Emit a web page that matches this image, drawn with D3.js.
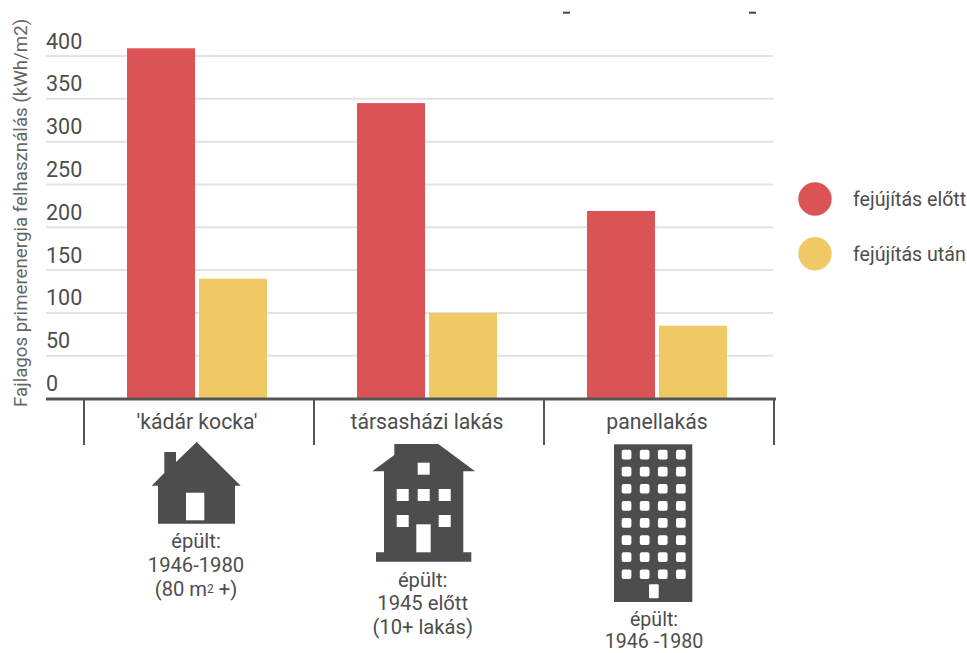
<!DOCTYPE html>
<head>
  <meta charset="utf-8">
  <script src="https://d3js.org/d3.v7.min.js"></script>
  <style>
    body { margin:0; background:#fff; }
    text { font-family:Roboto, sans-serif; fill:#4d4d4d; }
  </style>
</head>

<body>
  <script>
    var categories = ["'kádár kocka'", "társasházi lakás", "panellakás"];
    var seriesNames = ["fejújítás előtt", "fejújítás után"];
    var before = [409, 345, 219];
    var after = [140, 100, 85];
    var yTicks = [0, 50, 100, 150, 200, 250, 300, 350, 400];
    var yTitle = "Fajlagos primerenergia felhasználás (kWh/m2)";

    var colors = ["#dc5356", "#efc966"];
    var dark = "#4d4d4d";

    var svg = d3.select("body").append("svg")
      .attr("width", 967)
      .attr("height", 653)
      .style("display", "block");

    var x = d3.scaleBand().domain(categories).range([84, 774]);
    var xSub = d3.scaleBand().domain(seriesNames).range([43, 183]).paddingInner(4 / 72);
    var y = d3.scaleLinear().domain([0, 400]).range([398.5, 56]);

    // what is left of the cropped title at the top edge
    svg.selectAll("line.crop").data([563, 749]).enter().append("line")
      .attr("class", "crop")
      .attr("x1", function(d){ return d; })
      .attr("x2", function(d){ return d + 7; })
      .attr("y1", 12.7).attr("y2", 12.7)
      .attr("stroke", "#444")
      .attr("stroke-width", 2);

    // gridlines + labels sit above the line, left aligned
    var yAxis = svg.append("g").attr("class", "y-axis");
    yAxis.selectAll("line").data(yTicks.filter(function(d){ return d > 0; })).enter().append("line")
      .attr("x1", 46).attr("x2", 773)
      .attr("y1", function(d){ return y(d); })
      .attr("y2", function(d){ return y(d); })
      .attr("stroke", "#e2e2e2")
      .attr("stroke-width", 2);

    yAxis.selectAll("text").data(yTicks).enter().append("text")
      .attr("x", 46)
      .attr("y", function(d){ return y(d) - 7.5; })
      .style("font-size", "21.5px")
      .text(function(d){ return d; });

    svg.append("text")
      .attr("transform", "translate(27,407) rotate(-90)")
      .style("font-size", "18.7px")
      .style("fill", "#666")
      .text(yTitle);

    // bars
    var groups = svg.selectAll("g.cat").data(categories).enter().append("g")
      .attr("class", "cat")
      .attr("transform", function(d){ return "translate(" + x(d) + ",0)"; });

    groups.append("rect")
      .attr("x", xSub(seriesNames[0]))
      .attr("width", xSub.bandwidth())
      .attr("y", function(d, i){ return y(before[i]); })
      .attr("height", function(d, i){ return y(0) - y(before[i]); })
      .attr("fill", colors[0]);

    groups.append("rect")
      .attr("x", xSub(seriesNames[1]))
      .attr("width", xSub.bandwidth())
      .attr("y", function(d, i){ return y(after[i]); })
      .attr("height", function(d, i){ return y(0) - y(after[i]); })
      .attr("fill", colors[1]);

    // baseline and category separators
    svg.append("line")
      .attr("x1", 46).attr("x2", 776).attr("y1", 399).attr("y2", 399)
      .attr("stroke", "#555").attr("stroke-width", 3);

    svg.selectAll("line.sep").data(categories.concat(["end"])).enter().append("line")
      .attr("class", "sep")
      .attr("x1", function(d, i){ return 84 + i * x.step(); })
      .attr("x2", function(d, i){ return 84 + i * x.step(); })
      .attr("y1", 399).attr("y2", 445)
      .attr("stroke", "#555").attr("stroke-width", 2);

    svg.selectAll("text.cat-label").data(categories).enter().append("text")
      .attr("class", "cat-label")
      .attr("x", function(d){ return x(d) + x.bandwidth() / 2 - 2; })
      .attr("y", 429)
      .attr("text-anchor", "middle")
      .style("font-size", "21.2px")
      .text(function(d){ return d; });

    // legend
    var legend = svg.selectAll("g.legend").data(seriesNames).enter().append("g")
      .attr("class", "legend")
      .attr("transform", function(d, i){ return "translate(815," + (199 + i * 54.7) + ")"; });
    legend.append("circle").attr("r", 16.7).attr("fill", function(d, i){ return colors[i]; });
    legend.append("text").attr("x", 38).attr("y", 7)
      .style("font-size", "19.6px")
      .text(function(d){ return d; });

    // house icon
    var icons = svg.append("g").attr("fill", dark);
    icons.append("path").attr("d", "M196.7,442 L240.7,485.7 L235,485.7 L235,523.7 L158,523.7 L158,485.7 L151.7,485.7 L164.3,473 L164.3,452 L176,452 L176,462 Z");
    icons.append("rect").attr("x", 186).attr("y", 492.7).attr("width", 18.3).attr("height", 27.6).attr("fill", "#fff");

    // apartment house icon
    icons.append("path").attr("d", "M394.3,444 L438.3,444 L475,471.3 L463.3,471.3 L463.3,552.3 L471.3,552.3 L471.3,561.7 L376,561.7 L376,552.3 L384,552.3 L384,471.3 L372.3,471.3 L394.3,455 Z");
    var flatWindows = [[417.7, 462.7], [396.7, 489], [417.7, 489], [438.7, 489], [396.7, 515], [438.7, 515]];
    icons.selectAll("rect.fw").data(flatWindows).enter().append("rect")
      .attr("class", "fw")
      .attr("x", function(d){ return d[0]; })
      .attr("y", function(d){ return d[1]; })
      .attr("width", 12).attr("height", 12).attr("fill", "#fff");
    icons.append("rect").attr("x", 416.3).attr("y", 524.3).attr("width", 14.4).attr("height", 28).attr("fill", "#fff");

    // panel block icon
    icons.append("rect").attr("x", 614).attr("y", 444.3).attr("width", 78.3).attr("height", 157.7);
    d3.range(8).forEach(function(r){
      d3.range(4).forEach(function(c){
        icons.append("rect")
          .attr("x", 621.7 + c * 18.1)
          .attr("y", 449.7 + r * 17.1)
          .attr("width", 9.7).attr("height", 9.7).attr("rx", 2)
          .attr("fill", "#fff");
      });
    });
    icons.append("rect").attr("x", 649).attr("y", 584.3).attr("width", 9.7).attr("height", 14).attr("rx", 1).attr("fill", "#fff");

    // captions under the icons
    function caption(cx, ys, lines, size) {
      lines.forEach(function(l, i){
        svg.append("text")
          .attr("x", cx).attr("y", ys[i])
          .attr("text-anchor", "middle")
          .style("font-size", size + "px")
          .text(l);
      });
    }
    caption(196, [547.5, 571.5], ["épült:", "1946-1980"], 20.2);
    var m2 = svg.append("text").attr("x", 196).attr("y", 595.5)
      .attr("text-anchor", "middle").style("font-size", "20.2px");
    m2.append("tspan").text("(80 m");
    m2.append("tspan").attr("dy", -3).style("font-size", "12px").text("2");
    m2.append("tspan").attr("dy", 3).text(" +)");
    caption(422.7, [586.5, 610, 633.5], ["épült:", "1945 előtt", "(10+ lakás)"], 20.2);
    caption(654, [625.5, 648.2], ["épült:", "1946 -1980"], 19.6);
  </script>
</body>
